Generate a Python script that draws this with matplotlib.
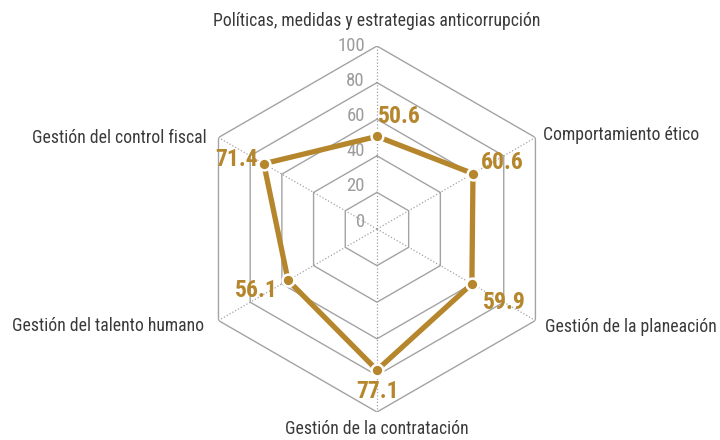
import matplotlib
matplotlib.use("Agg")
import matplotlib.pyplot as plt
from matplotlib import font_manager as fm
import numpy as np

# dimensiones, en el sentido de las agujas del reloj desde arriba
categorias = [
    'Políticas, medidas y estrategias anticorrupción',
    'Comportamiento ético',
    'Gestión de la planeación',
    'Gestión de la contratación',
    'Gestión del talento humano',
    'Gestión del control fiscal',
]
valores = [50.6, 60.6, 59.9, 77.1, 56.1, 71.4]
niveles = [0, 20, 40, 60, 80, 100]

oro = '#b5862b'
gris = '#a3a3a3'


def fuente_estrecha(peso):
    """Busca una fuente condensada instalada; si no hay, usa Roboto."""
    orden = ['Roboto', 'Liberation', 'Open Sans', 'Noto Sans', 'DejaVu']
    cands = []
    for f in fm.fontManager.ttflist:
        estrecha = (f.stretch not in ('normal', 400, 'semi-expanded', 'expanded')
                    or 'Condensed' in f.name or 'Narrow' in f.name)
        if not estrecha or f.style != 'normal':
            continue
        w = f.weight if isinstance(f.weight, int) else fm.weight_dict.get(f.weight, 400)
        pri = next((i for i, o in enumerate(orden) if f.name.startswith(o)), len(orden))
        cands.append((abs(w - peso), pri, f.fname))
    if cands:
        cands.sort()
        return fm.FontProperties(fname=cands[0][2])
    return fm.FontProperties(family='Roboto', weight=peso)


fp_reg = fuente_estrecha(400)
fp_bold = fuente_estrecha(700)

n = len(categorias)
theta = np.arange(n) * 2 * np.pi / n
theta_c = np.append(theta, theta[0])

fig = plt.figure(figsize=(7.2, 4.4), dpi=100)
ax = fig.add_axes([0.2694, 0.0636, 0.5083, 0.8318], projection='polar')
ax.set_theta_offset(np.pi / 2)
ax.set_theta_direction(-1)
ax.set_ylim(0, 100)
ax.axis('off')

# rejilla hexagonal
for lvl in niveles[1:]:
    ax.plot(theta_c, [lvl] * (n + 1), color=gris, lw=1.0, zorder=1)
for t in theta:
    ax.plot([t, t], [0, 100], color=gris, lw=0.9, ls=(0, (1, 1.6)), zorder=1)

# etiquetas de la escala
for lvl in niveles:
    ax.annotate(str(lvl), xy=(0, lvl), xytext=(-12, 7.5 - 0.07 * lvl),
                textcoords='offset pixels', ha='right', va='center',
                fontproperties=fp_reg, fontsize=13.5, color='#9c9c9c')

# serie
vals_c = valores + valores[:1]
ax.plot(theta_c, vals_c, color=oro, lw=3.8, zorder=3)
ax.plot(theta, valores, 'o', ms=8.5, mfc=oro, mec='white', mew=1.8, zorder=4)

desp_valores = [(22, 20), (29, 11), (32, -19), (1, -21), (-32, -10), (-27, 4)]
for t, v, (dx, dy) in zip(theta, valores, desp_valores):
    ax.annotate(f'{v}', xy=(t, v), xytext=(dx, dy), textcoords='offset pixels',
                ha='center', va='center', fontproperties=fp_bold, fontsize=17,
                color=oro, zorder=5)

# nombres de las dimensiones
desp_cat = [((0, 25), 'center'), ((8, 3), 'left'), ((10, -6), 'left'),
            ((0, -17), 'center'), ((-14, -5), 'right'), ((-12, 0), 'right')]
for t, nombre, ((dx, dy), ha) in zip(theta, categorias, desp_cat):
    ax.annotate(nombre, xy=(t, 100), xytext=(dx, dy), textcoords='offset pixels',
                ha=ha, va='center', fontproperties=fp_reg, fontsize=12.7,
                color='#3a3a3a')

fig.savefig('out.png', dpi=100)
